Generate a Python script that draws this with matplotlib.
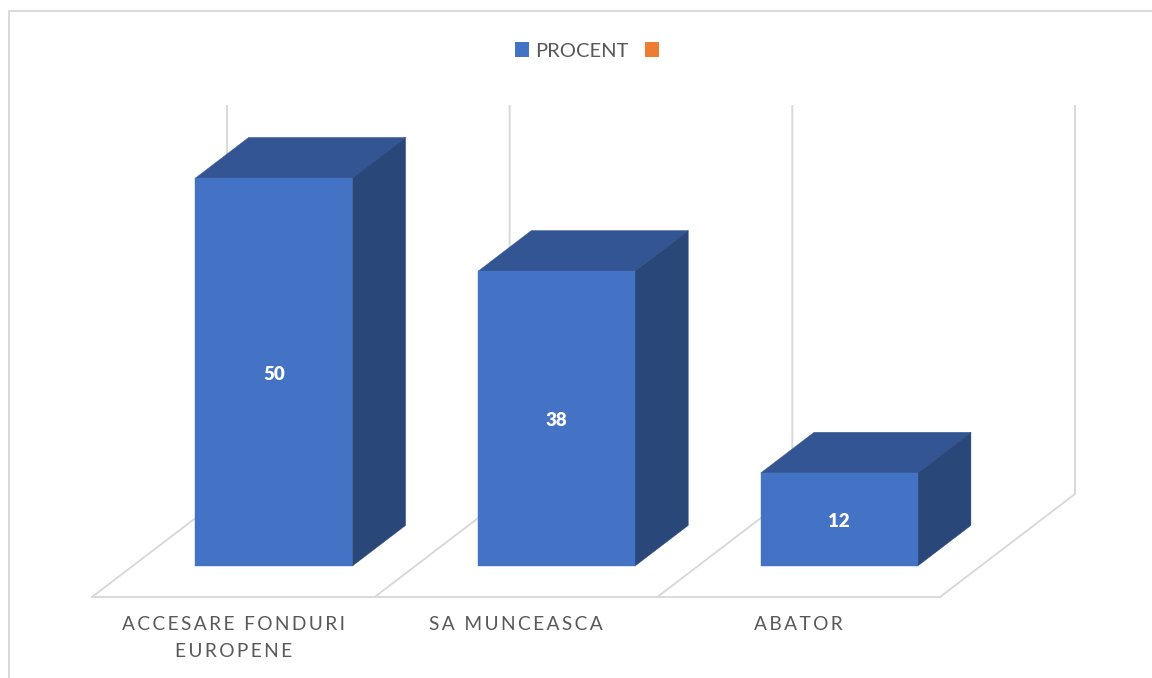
#!/usr/bin/env python
# -*- coding: utf-8 -*-

import matplotlib
matplotlib.use('Agg')
import matplotlib.pyplot as plt
from matplotlib.lines import Line2D
from matplotlib.patches import Patch, Polygon

plt.rcParams['font.family'] = ['Lato', 'DejaVu Sans']

categorii = ['ACCESARE FONDURI\nEUROPENE', 'SA MUNCEASCA', 'ABATOR']
procent = [50, 38, 12]
legenda = ['PROCENT', '']
culori_legenda = ['#4472C4', '#ED7D31']

W, H = 1152.0, 678.0
GRI = '#D9D9D9'
TEXT = '#595959'
FATA = '#4472C4'
SUS = '#335593'
LATERAL = '#2A4779'

# depth of the floor in data units (x per category, y per value)
DX = 135 / 282.67
DY = 103 / 7.76
BAR_W = 0.555
D0, D1 = 0.30, 0.695


def proj(x, d, v):
  return (x + d * DX, v + d * DY)


def spatiat(s):
  # matplotlib has no letter spacing, thin spaces between the letters do it
  return '\n'.join('\u2009'.join(linie) for linie in s.split('\n'))


fig = plt.figure(figsize=(W / 100, H / 100), dpi=100)
ax = fig.add_axes([92 / W, 1 - 597 / H, (940 - 92) / W, (597 - 105) / H])
ax.set_xlim(-0.5, 2.5)
ax.set_ylim(0, 492 / 7.76)
ax.patch.set_visible(False)

for s in ['top', 'left', 'right']:
  ax.spines[s].set_visible(False)
ax.spines['bottom'].set_color(GRI)
ax.spines['bottom'].set_linewidth(1.4)
ax.set_yticks([])
ax.set_xticks(range(len(categorii)))
ax.set_xticklabels([spatiat(c) for c in categorii], color=TEXT, fontsize=13.8, linespacing=1.72)
ax.tick_params(axis='x', length=0, pad=13.4)

# floor lines and back walls
zid = 50
for i in range(len(categorii) + 1):
  x = i - 0.5
  a = proj(x, 0, 0)
  b = proj(x, 1, 0)
  c = proj(x, 1, zid)
  ax.plot([a[0], b[0], c[0]], [a[1], b[1], c[1]], color=GRI, lw=1.4, clip_on=False, zorder=1, solid_joinstyle='miter')

# 3d bars
for i, v in enumerate(procent):
  st = i - BAR_W / 2
  dr = i + BAR_W / 2
  fata = [proj(st, D0, 0), proj(dr, D0, 0), proj(dr, D0, v), proj(st, D0, v)]
  sus = [proj(st, D0, v), proj(dr, D0, v), proj(dr, D1, v), proj(st, D1, v)]
  lateral = [proj(dr, D0, 0), proj(dr, D1, 0), proj(dr, D1, v), proj(dr, D0, v)]
  ax.add_patch(Polygon(sus, closed=True, fc=SUS, ec=SUS, lw=0.3, clip_on=False, zorder=3))
  ax.add_patch(Polygon(lateral, closed=True, fc=LATERAL, ec=LATERAL, lw=0.3, clip_on=False, zorder=3))
  ax.add_patch(Polygon(fata, closed=True, fc=FATA, ec=FATA, lw=0.3, clip_on=False, zorder=4))
  ax.annotate(str(v), xy=proj(i, D0, v / 2.0), xytext=(0, -2), textcoords='offset pixels', color='white',
              fontsize=13.5, fontweight='heavy', ha='center', va='center', zorder=5)

handles = [Patch(fc=c, ec='none') for c in culori_legenda]
fig.legend(handles, legenda, loc='center', bbox_to_anchor=(590 / W, 1 - 51 / H), bbox_transform=fig.transFigure,
           ncols=2, frameon=False, fontsize=14.5, labelcolor=TEXT, handlelength=0.7, handleheight=0.7,
           handletextpad=0.3, columnspacing=0.85, borderpad=0, borderaxespad=0)

# chart border, runs off the right and bottom of the picture
fig.add_artist(Line2D([9 / W, 9 / W], [0, 1 - 11 / H], color=GRI, lw=1.4))
fig.add_artist(Line2D([9 / W, 1], [1 - 11 / H, 1 - 11 / H], color=GRI, lw=1.4))

fig.savefig('out.png', dpi=100)
